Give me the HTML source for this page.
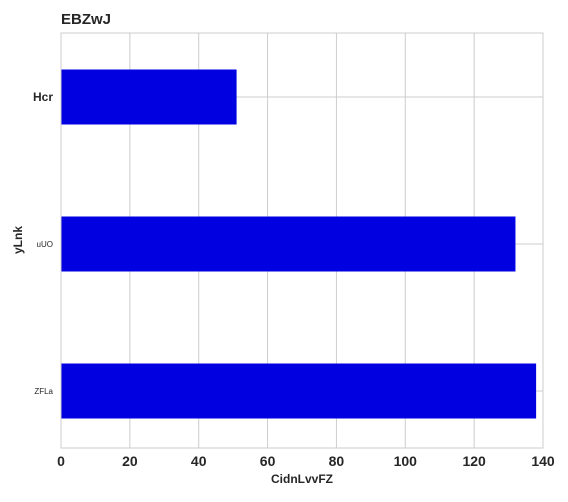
<!DOCTYPE html>
<html><head><meta charset="utf-8"><style>
body{margin:0;background:#fff;}
svg text{font-family:"Liberation Sans",sans-serif;fill:#262626;}
</style></head><body>
<svg width="568" height="497">
<text x="61" y="24" font-size="15" font-weight="bold">EBZwJ</text>
<g id="grid"></g>
<g id="bars"></g>
<rect x="61" y="33" width="482" height="415" fill="none" stroke="#cccccc" stroke-width="1"/>
<g id="xt"></g><g id="yt"></g>
<text x="302" y="483" font-size="12" font-weight="bold" text-anchor="middle">CidnLvvFZ</text>
<text transform="translate(22,240) rotate(-90)" font-size="12" font-weight="bold" text-anchor="middle">yLnk</text>
</svg>
<script>
const categories=["Hcr","uUO","ZFLa"];
const values=[51,132,138];
const xTicks=[0,20,40,60,80,100,120,140];
const labelSizes=[12,8,8];
const labelBold=[true,false,false];
const L=61,R=543,T=33,B=448,xmax=140;
const ns="http://www.w3.org/2000/svg";
const x=v=>L+(v/xmax)*(R-L);
const step=147;
const y=i=>T+64+step*i;
const bh=55;
const g=document.getElementById('grid'),bars=document.getElementById('bars'),xt=document.getElementById('xt'),yt=document.getElementById('yt');
function mk(t,a,p){const e=document.createElementNS(ns,t);for(const k in a)e.setAttribute(k,a[k]);p.appendChild(e);return e;}
xTicks.forEach(v=>{
 const l=mk('line',{x1:x(v),x2:x(v),y1:T,y2:B,stroke:'#cccccc'},g);
 
 
 const t=mk('text',{x:x(v),y:B+18,'font-size':14,'font-weight':'bold','text-anchor':'middle'},xt);
 t.textContent=v;
 
 
});
categories.forEach((c,i)=>{
 const l=mk('line',{x1:L,x2:R,y1:y(i),y2:y(i),stroke:'#cccccc'},g);
 
 
 const r=mk('rect',{x:x(0),y:y(i)-bh/2,width:x(values[i])-x(0),height:bh,fill:'#0000e0'},bars);
 
 
 const t=mk('text',{x:L-8,y:y(i)+labelSizes[i]*0.35,'font-size':labelSizes[i],'font-weight':labelBold[i]?'bold':'normal','text-anchor':'end'},yt);
 t.textContent=c;
 
 
});
</script>
</body></html>
